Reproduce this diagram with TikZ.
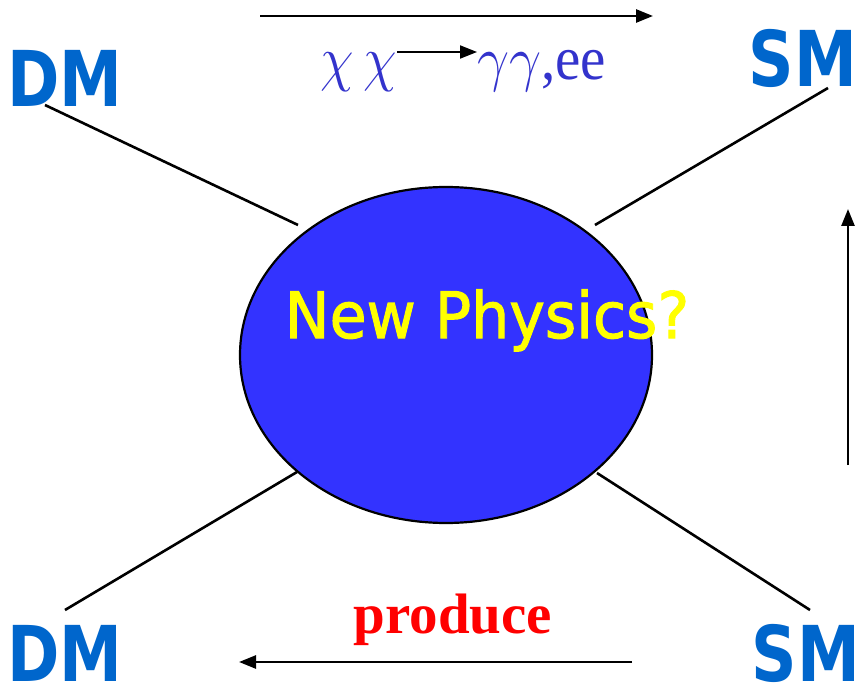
\RequirePackage{fix-cm}
\documentclass[tikz,border=0pt]{standalone}
\usepackage{fontspec}
\setmainfont{Liberation Serif}
\newfontfamily\labfont{DejaVu Sans}
\newfontfamily\npfont[FakeBold=1.6]{DejaVu Sans}
\usetikzlibrary{arrows.meta,shapes.geometric}
\definecolor{smblue}{HTML}{0066CC}
\definecolor{npblue}{HTML}{3333FF}
\definecolor{chiblue}{HTML}{3333CC}
\definecolor{npyellow}{HTML}{FFFF00}
\tikzset{
  corner/.style={inner sep=0pt, anchor=base, text=smblue, font=\labfont\bfseries\fontsize{77}{77}\selectfont},
  leg/.style={line width=2.6pt, black},
  flow/.style={line width=2.6pt, black, -{Triangle[length=17pt,width=13pt]}},
  rxn/.style={inner sep=0pt, text=chiblue, font=\fontsize{62}{62}\selectfont},
}
\begin{document}
\begin{tikzpicture}[x=1pt,y=1pt]
\useasboundingbox (0,0) rectangle (859,689);
% blob
\node[draw=black, line width=2.2pt, fill=npblue, ellipse, minimum width=412pt, minimum height=336pt, inner sep=0pt] (np) at (446,334) {};
\node[anchor=base, inner sep=0pt, text=npyellow, font=\npfont\fontsize{64}{64}\selectfont] (nptext) at (487,351) {\scalebox{0.94}[1]{New Physics?}};
% corner labels
\node[corner] (dmtl) at (65,582) {\scalebox{0.82}[1]{DM}};
\node[corner] (smtr) at (803,602) {\scalebox{0.82}[1]{SM}};
\node[corner] (dmbl) at (65,8) {\scalebox{0.82}[1]{DM}};
\node[corner] (smbr) at (806,8) {\scalebox{0.82}[1]{SM}};
% leg endpoints
\coordinate (tl1) at (45,584); \coordinate (tl2) at (298,464);
\coordinate (tr1) at (595,464); \coordinate (tr2) at (828,601);
\coordinate (bl1) at (297,217); \coordinate (bl2) at (65,79);
\coordinate (br1) at (597,216); \coordinate (br2) at (810,79);
\draw[leg] (tl1) -- (tl2);
\draw[leg] (tr1) -- (tr2);
\draw[leg] (bl1) -- (bl2);
\draw[leg] (br1) -- (br2);
% flow arrows
\coordinate (ta1) at (260,673); \coordinate (ta2) at (653,673);
\coordinate (ra1) at (848,224); \coordinate (ra2) at (848,480);
\coordinate (ba1) at (632,27); \coordinate (ba2) at (239,27);
\draw[flow] (ta1) -- (ta2);
\draw[flow] (ra1) -- (ra2);
\draw[flow] (ba1) -- (ba2);
% reaction
\node[rxn, anchor=base east] (chis) at (397,609) {\scalebox{0.88}[1]{$\chi$\,$\chi$}};
\node[rxn, anchor=base west] (prods) at (477,609) {\scalebox{0.92}[1]{$\gamma\gamma$,ee}};
\draw[line width=2pt, -{Triangle[length=17pt,width=13pt]}] (chis.east |- 0,637) -- (prods.west |- 0,637);
% produce
\node[anchor=base, inner sep=0pt, text=red, font=\bfseries\fontsize{57}{57}\selectfont] (prod) at (453,56) {produce};
\end{tikzpicture}
\end{document}
